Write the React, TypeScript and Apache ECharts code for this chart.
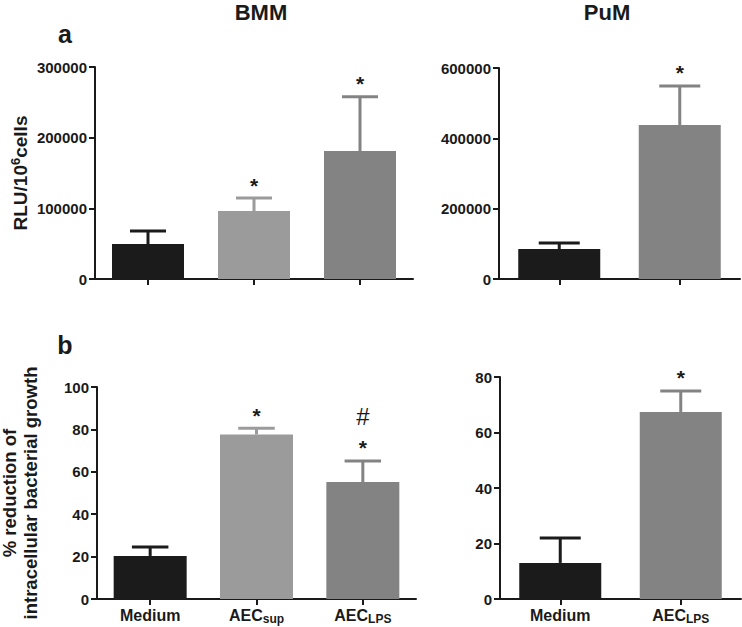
import React, { useEffect, useRef } from "react";
import * as echarts from "echarts";

const bmmCats = ["Medium", "AEC_sup", "AEC_LPS"];
const pumCats = ["Medium", "AEC_LPS"];

const bmmRlu = [49500, 96200, 181000];
const bmmRluErr = [18400, 18400, 77000];
const pumRlu = [85000, 438000];
const pumRluErr = [17400, 111000];

const bmmKill = [20.3, 77.6, 55.2];
const bmmKillErr = [4.2, 2.9, 9.9];
const pumKill = [13, 67.4];
const pumKillErr = [9, 7.6];

const bmmRluMarks = ["", "*", "*"];
const pumRluMarks = ["", "*"];
const bmmKillMarks = ["", "*", "*"];
const bmmKillMarks2 = ["", "", "#"];
const pumKillMarks = ["", "*"];

const rluBmmAxis = { max: 300000, interval: 100000 };
const rluPumAxis = { max: 600000, interval: 200000 };
const killBmmAxis = { max: 100, interval: 20 };
const killPumAxis = { max: 80, interval: 20 };

const FONT = "'Liberation Sans', Arial, Helvetica, sans-serif";
const INK = "#1a1a1a";
const catColor: Record<string, string> = {
  Medium: "#1b1b1b",
  AEC_sup: "#9b9b9b",
  AEC_LPS: "#838383",
};

type Panel = {
  cats: string[];
  vals: number[];
  errs: number[];
  marks: string[];
  marks2: string[];
  axis: { max: number; interval: number };
  grid: { left: number; top: number; width: number; height: number };
  barWidth: number;
  showLabels: boolean;
};

const panels: Panel[] = [
  {
    cats: bmmCats, vals: bmmRlu, errs: bmmRluErr, marks: bmmRluMarks, marks2: ["", "", ""],
    axis: rluBmmAxis, grid: { left: 95, top: 67, width: 318, height: 212 }, barWidth: 72, showLabels: false,
  },
  {
    cats: pumCats, vals: pumRlu, errs: pumRluErr, marks: pumRluMarks, marks2: ["", ""],
    axis: rluPumAxis, grid: { left: 499, top: 68, width: 241, height: 211 }, barWidth: 82, showLabels: false,
  },
  {
    cats: bmmCats, vals: bmmKill, errs: bmmKillErr, marks: bmmKillMarks, marks2: bmmKillMarks2,
    axis: killBmmAxis, grid: { left: 97, top: 387, width: 319, height: 212 }, barWidth: 73, showLabels: true,
  },
  {
    cats: pumCats, vals: pumKill, errs: pumKillErr, marks: pumKillMarks, marks2: ["", ""],
    axis: killPumAxis, grid: { left: 500, top: 377, width: 241, height: 222 }, barWidth: 82, showLabels: true,
  },
];

function catLabel(v: string) {
  if (v.startsWith("AEC_")) return "{m|AEC}{s|" + v.slice(4) + "}";
  return "{m|" + v + "}";
}

function buildOption() {
  const grid = panels.map((p) => ({ ...p.grid, containLabel: false }));
  const xAxis = panels.map((p, i) => ({
    type: "category",
    gridIndex: i,
    data: p.cats,
    axisLine: { show: true, lineStyle: { color: INK, width: 2 } },
    axisTick: { show: true, alignWithLabel: true, length: 6, lineStyle: { color: INK, width: 2 } },
    axisLabel: {
      show: p.showLabels,
      interval: 0,
      margin: 6,
      formatter: catLabel,
      rich: {
        m: { fontFamily: FONT, fontWeight: "bold", fontSize: 16, color: INK, lineHeight: 20, verticalAlign: "middle" },
        s: { fontFamily: FONT, fontWeight: "bold", fontSize: 12, color: INK, lineHeight: 10, verticalAlign: "bottom" },
      },
    },
    splitLine: { show: false },
  }));
  const yAxis = panels.map((p, i) => ({
    type: "value",
    gridIndex: i,
    min: 0,
    max: p.axis.max,
    interval: p.axis.interval,
    axisLine: { show: true, lineStyle: { color: INK, width: 2 } },
    axisTick: { show: true, length: 6, lineStyle: { color: INK, width: 2 } },
    axisLabel: {
      margin: 8, fontFamily: FONT, fontWeight: "bold", fontSize: 15, color: INK,
      formatter: (v: number) => String(v),
    },
    splitLine: { show: false },
  }));

  const series: any[] = [];
  panels.forEach((p, i) => {
    series.push({
      type: "bar",
      xAxisIndex: i,
      yAxisIndex: i,
      barWidth: p.barWidth,
      data: p.vals.map((v, k) => ({ value: v, itemStyle: { color: catColor[p.cats[k]] } })),
      z: 2,
    });
    series.push({
      type: "custom",
      xAxisIndex: i,
      yAxisIndex: i,
      z: 3,
      data: p.vals.map((v, k) => [k, v + p.errs[k], v]),
      renderItem: (params: any, api: any) => {
        const k = params.dataIndex;
        const idx = api.value(0);
        const top = api.value(1);
        const mean = api.value(2);
        const p0 = api.coord([idx, mean]);
        const p1 = api.coord([idx, top]);
        const color = catColor[p.cats[k]];
        const half = p.barWidth / 4;
        const children: any[] = [
          { type: "line", shape: { x1: p0[0], y1: p0[1], x2: p0[0], y2: p1[1] }, style: { stroke: color, lineWidth: 3 } },
          { type: "line", shape: { x1: p0[0] - half, y1: p1[1], x2: p0[0] + half, y2: p1[1] }, style: { stroke: color, lineWidth: 3 } },
        ];
        if (p.marks[k]) {
          children.push({
            type: "text",
            style: {
              text: p.marks[k], x: p0[0], y: p1[1] - 13, align: "center", verticalAlign: "middle",
              font: "bold 21px " + FONT, fill: INK,
            },
          });
        }
        if (p.marks2[k]) {
          children.push({
            type: "text",
            style: {
              text: p.marks2[k], x: p0[0], y: p1[1] - 44, align: "center", verticalAlign: "middle",
              font: "normal 24px " + FONT, fill: INK,
            },
          });
        }
        return { type: "group", children };
      },
    });
  });

  const graphic = [
    { type: "text", x: 261, y: 12, style: { text: "BMM", align: "center", verticalAlign: "middle", font: "bold 22px " + FONT, fill: INK } },
    { type: "text", x: 607, y: 12, style: { text: "PuM", align: "center", verticalAlign: "middle", font: "bold 22px " + FONT, fill: INK } },
    { type: "text", x: 65, y: 34, style: { text: "a", align: "center", verticalAlign: "middle", font: "bold 25px " + FONT, fill: INK } },
    { type: "text", x: 65, y: 345, style: { text: "b", align: "center", verticalAlign: "middle", font: "bold 25px " + FONT, fill: INK } },
    {
      type: "text", x: 20, y: 173, rotation: Math.PI / 2,
      style: {
        text: "{a|RLU/10}{s|6}{a|cells}", align: "center", verticalAlign: "middle",
        rich: {
          a: { fontFamily: FONT, fontWeight: "bold", fontSize: 19, fill: INK, lineHeight: 22, verticalAlign: "middle" },
          s: { fontFamily: FONT, fontWeight: "bold", fontSize: 13, fill: INK, lineHeight: 13, verticalAlign: "top" },
        },
      },
    },
    {
      type: "text", x: 20, y: 493, rotation: Math.PI / 2,
      style: {
        text: "% reduction of\nintracellular bacterial growth", align: "center", verticalAlign: "middle",
        font: "bold 18.5px " + FONT, fill: INK, lineHeight: 21,
      },
    },
  ];

  return { animation: false, grid, xAxis, yAxis, series, graphic };
}

export default function App() {
  const ref = useRef<HTMLDivElement>(null);
  useEffect(() => {
    if (!ref.current) return;
    const chart = echarts.init(ref.current, undefined, { renderer: "svg" });
    chart.setOption(buildOption() as any);
    return () => chart.dispose();
  }, []);
  return (
    <div
      ref={ref}
      style={{ position: "fixed", left: 0, top: 0, width: 742, height: 627, background: "#fff" }}
    />
  );
}
